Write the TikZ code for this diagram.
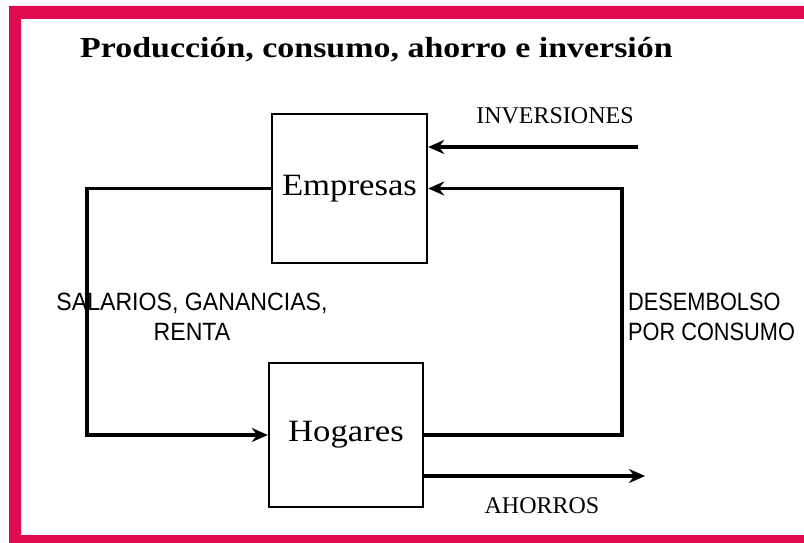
\documentclass[tikz,border=0pt]{standalone}
\usepackage{fontspec}
\setmainfont{Liberation Serif}
\newfontfamily\labsans{Liberation Sans}
\usetikzlibrary{arrows.meta}
\definecolor{framecol}{RGB}{228,10,80}
\tikzset{
  boxnode/.style={draw=black, line width=2.4pt, minimum width=#1, inner sep=0pt},
  flow/.style={line width=3.8pt, line join=miter},
  flowarrow/.style={flow, -{Stealth[length=16pt,width=14pt]}},
  caplab/.style={font=\fontsize{24}{28}\selectfont, inner sep=0pt},
  sanslab/.style={font=\labsans\fontsize{25}{30}\selectfont, inner sep=0pt, align=center},
  boxtext/.style={font=\fontsize{31}{34}\selectfont},
}
\begin{document}
\begin{tikzpicture}[x=1pt, y=-1pt]
\useasboundingbox (0,0) rectangle (804,543);
% frame
\fill[framecol, even odd rule] (9,6) rectangle (804,543) (21,19) rectangle (804,535);
% title
\node[anchor=west, inner sep=0pt, font=\bfseries\fontsize{29}{32}\selectfont] (title) at (80,50)
  {\scalebox{1.17}[1]{Producción, consumo, ahorro e inversión}};
% boxes
\node[boxnode=155pt, minimum height=149pt, boxtext] (emp) at (349.5,188.5) {\scalebox{1.12}[1]{Empresas}};
\node[boxnode=154pt, minimum height=144pt, boxtext] (hog) at (346,435) {\scalebox{1.12}[1]{Hogares}};
% free ends
\coordinate (lt) at (87,188.5);
\coordinate (lb) at (87,435);
\coordinate (rb) at (622,435);
\coordinate (rt) at (622,188.5);
\coordinate (inv) at (638,147);
\coordinate (aho) at (645,476);
% connectors
\draw[flowarrow] (emp.west) -- (lt) -- (lb) -- (hog.west);
\draw[flowarrow] (hog.east) -- (rb) -- (rt) -- (emp.east);
\draw[flowarrow] (inv) -- (emp.east |- inv);
\draw[flowarrow] (hog.east |- aho) -- (aho);
% labels
\node[caplab] (linv) at (555,116) {INVERSIONES};
\node[caplab] (laho) at (542,506) {AHORROS};
\node[sanslab] (lsal) at (192,317) {\scalebox{0.925}[1]{SALARIOS, GANANCIAS,}\\\scalebox{0.925}[1]{RENTA}};
\node[sanslab, align=left, anchor=west] (ldes) at (628,317) {\scalebox{0.87}[1]{DESEMBOLSO}\\\scalebox{0.87}[1]{POR CONSUMO}};
\end{tikzpicture}
\end{document}
